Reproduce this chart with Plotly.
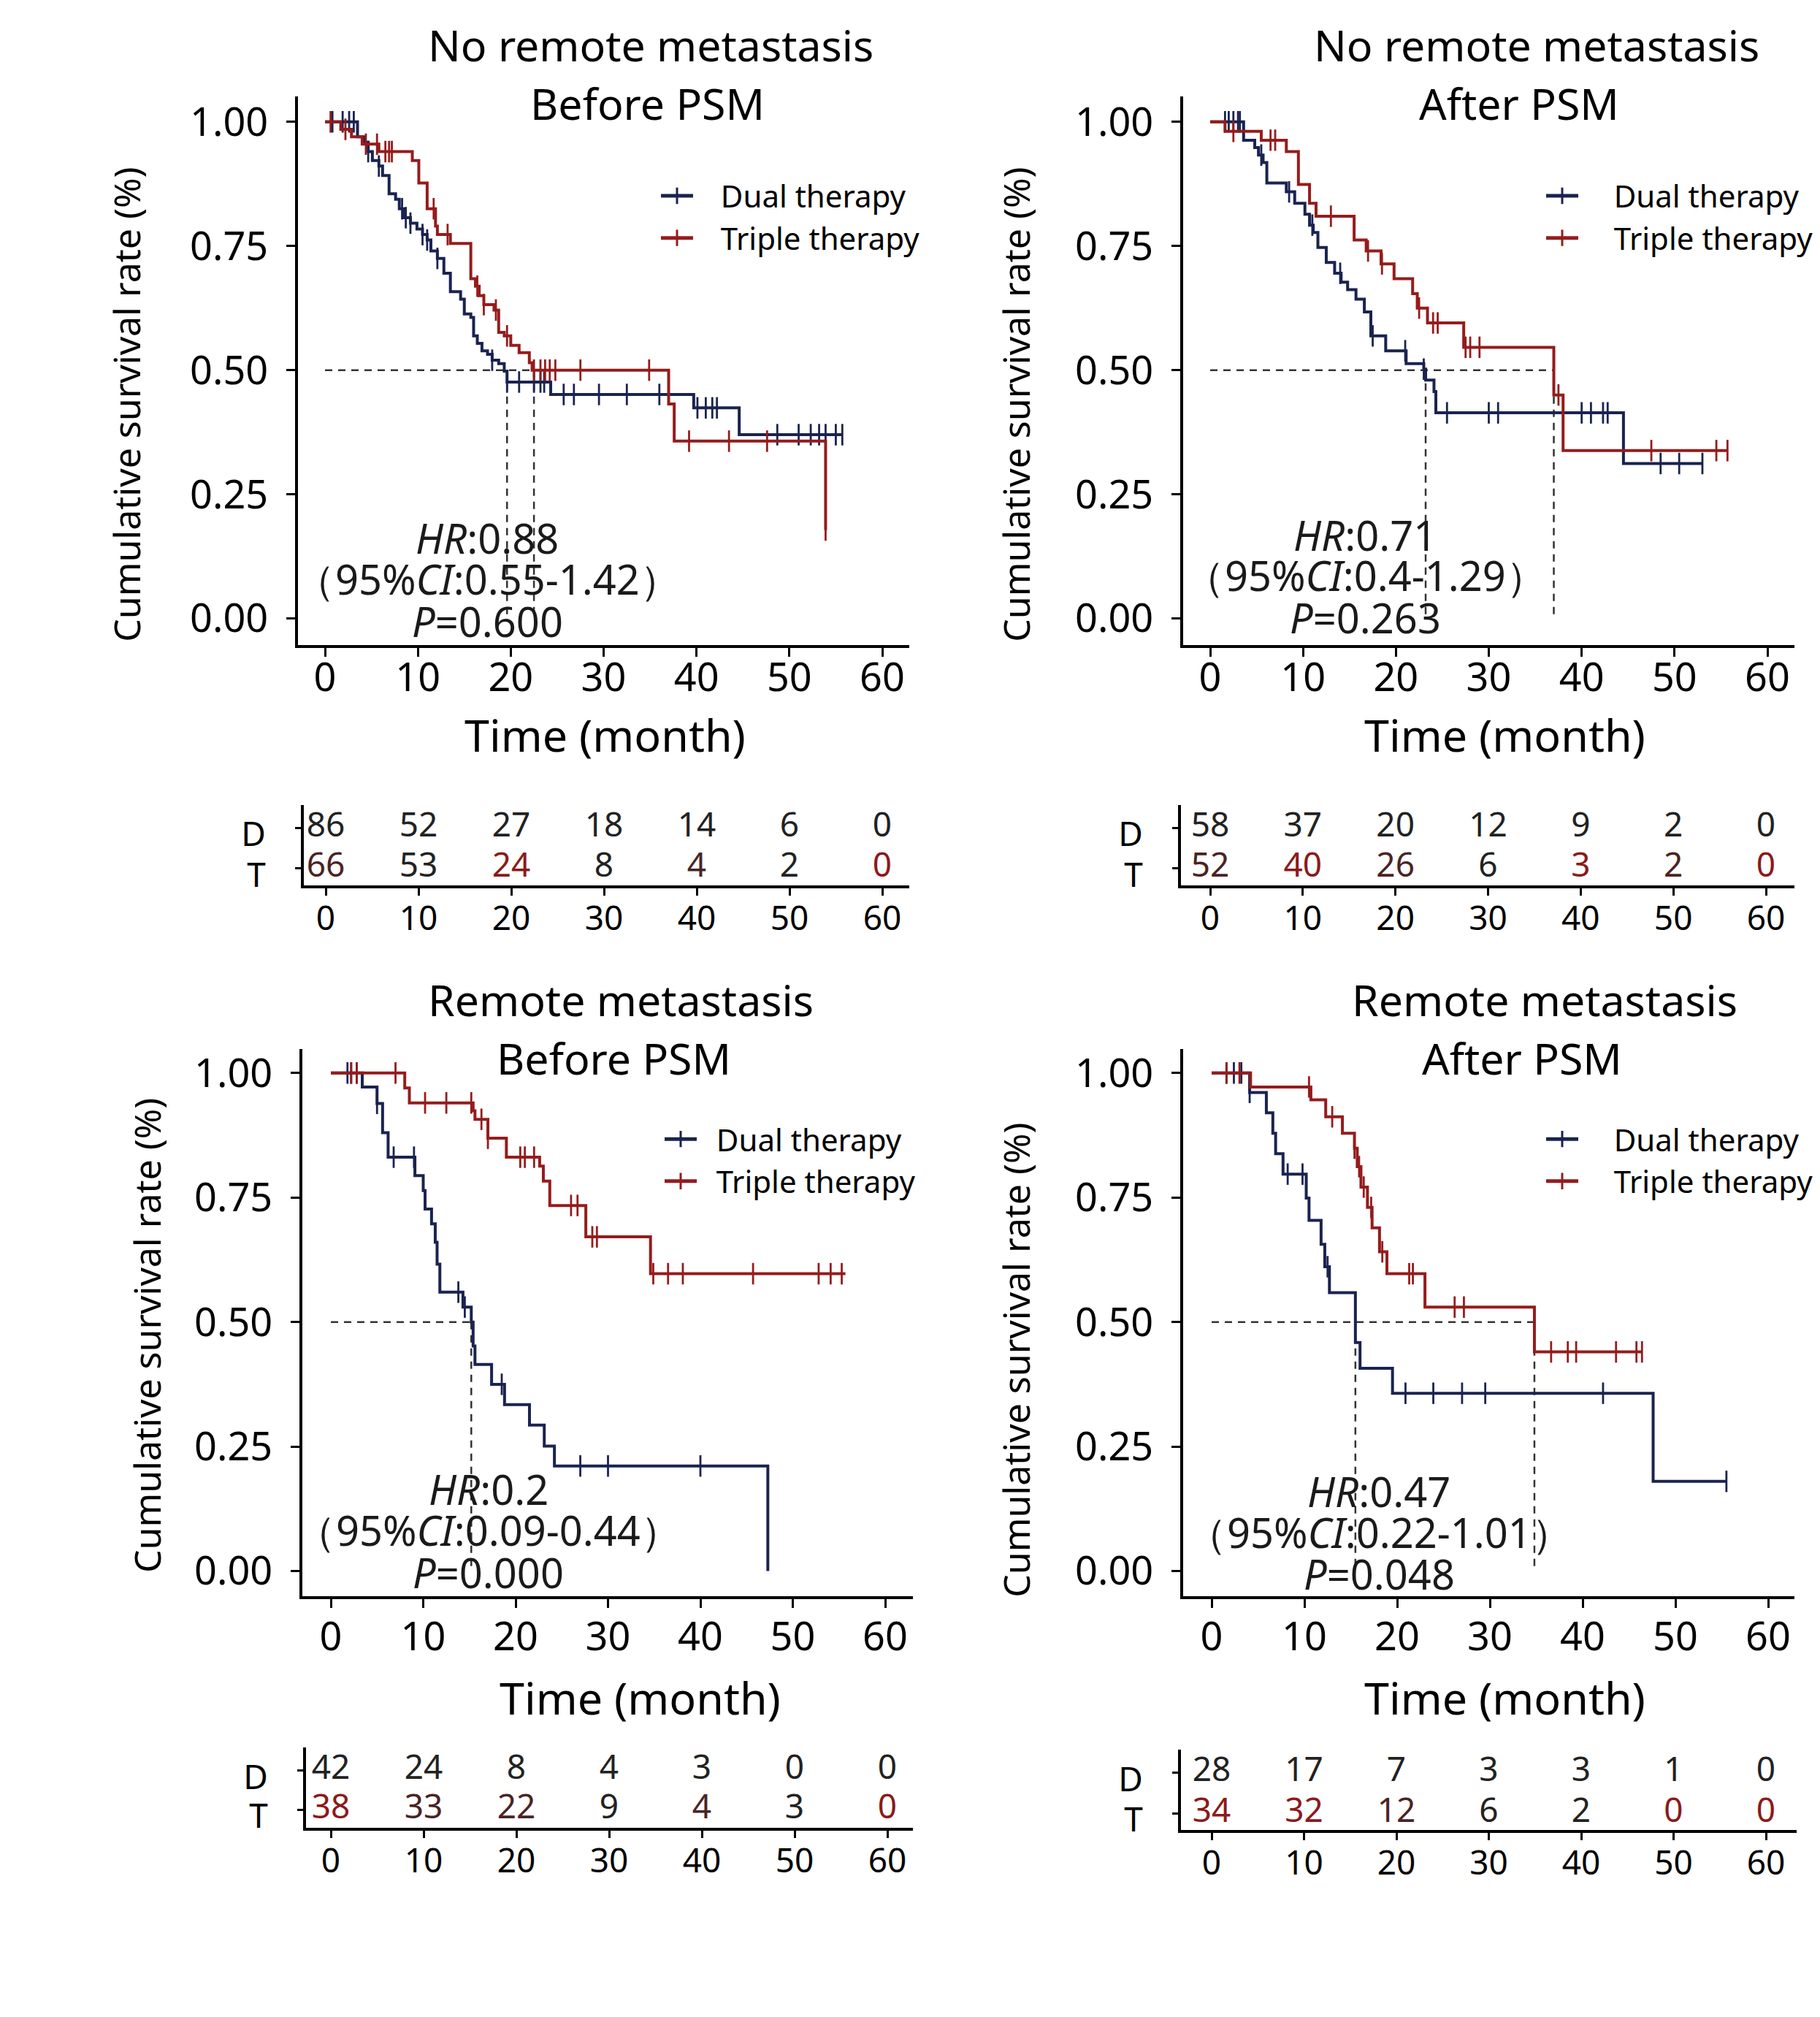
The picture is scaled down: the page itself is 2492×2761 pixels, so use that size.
import plotly.graph_objects as go

W, H = 2492, 2761

# ---------------- data ----------------
times_risk = [0, 10, 20, 30, 40, 50, 60]

# Panel 1: No remote metastasis, before PSM
p1_dual_t = [0, 3.5, 4.2, 4.65, 5.1, 5.8, 6.2, 6.9, 7.6, 8.0, 8.5, 9.2, 9.9, 10.5, 11.0, 11.4, 12.1, 12.8,
             13.5, 14.6, 15.0, 15.7, 16.0, 16.4, 16.9, 17.5, 18.0, 18.7, 19.3, 19.6, 24.3, 39.7, 44.6, 55.7]
p1_dual_s = [1.0, 0.970, 0.959, 0.940, 0.922, 0.911, 0.892, 0.855, 0.844, 0.825, 0.807, 0.796, 0.784, 0.773,
             0.762, 0.740, 0.725, 0.695, 0.658, 0.643, 0.613, 0.606, 0.569, 0.554, 0.539, 0.532, 0.520, 0.513,
             0.498, 0.476, 0.451, 0.424, 0.370, 0.370]
p1_dual_cens = [0.8, 1.9, 2.6, 3.1, 4.65, 5.8, 8.3, 8.7, 9.2, 10.5, 11.0, 12.1, 18.0, 19.6, 20.9, 22.5, 23.2,
                23.6, 25.7, 26.8, 29.5, 32.5, 36.0, 40.1, 41.0, 41.7, 42.2, 48.7, 51.0, 52.3, 53.2, 53.9, 55.0, 55.7]
p1_trip_t = [0, 1.7, 2.85, 4.0, 5.8, 9.4, 10.1, 11.0, 11.9, 12.1, 13.5, 15.7, 16.2, 16.6, 17.1, 18.2, 18.7,
             19.3, 20.0, 20.9, 22.0, 22.3, 37.0, 37.6, 53.9]
p1_trip_s = [1.0, 0.985, 0.970, 0.955, 0.940, 0.922, 0.877, 0.825, 0.790, 0.773, 0.755, 0.684, 0.669, 0.650,
             0.632, 0.621, 0.576, 0.569, 0.550, 0.535, 0.515, 0.500, 0.432, 0.357, 0.178]
p1_trip_cens = [0.6, 2.2, 4.4, 5.6, 6.5, 6.9, 7.2, 11.7, 13.2, 16.4, 17.1, 18.4, 19.6, 22.5, 23.2, 23.7, 24.2,
                24.8, 27.5, 34.9, 39.2, 43.5, 47.6, 53.9]
p1_medians = [19.6, 22.5]
p1_risk_dual = [86, 52, 27, 18, 14, 6, 0]
p1_risk_trip = [66, 53, 24, 8, 4, 2, 0]

# Panel 2: No remote metastasis, after PSM
p2_dual_t = [0, 3.6, 4.8, 5.2, 5.7, 6.1, 8.2, 9.1, 10.2, 10.7, 11.1, 11.6, 12.5, 13.4, 14.1, 14.8, 15.7, 16.6,
             17.3, 18.9, 21.1, 23.0, 23.2, 24.1, 24.3, 44.5, 53.0]
p2_dual_s = [1.0, 0.963, 0.948, 0.933, 0.918, 0.877, 0.859, 0.836, 0.814, 0.792, 0.777, 0.747, 0.717, 0.695,
             0.677, 0.662, 0.643, 0.617, 0.569, 0.539, 0.513, 0.502, 0.480, 0.457, 0.414, 0.312, 0.312]
p2_dual_cens = [1.6, 2.0, 2.5, 3.0, 3.2, 5.5, 8.5, 11.0, 14.0, 17.5, 21.0, 23.0, 25.5, 30.0, 31.0, 40.0, 41.0,
                42.3, 42.8, 48.5, 50.5, 53.0]
p2_trip_t = [0, 1.6, 5.5, 8.2, 9.5, 10.7, 11.4, 15.5, 16.8, 18.4, 19.8, 21.8, 22.3, 23.4, 27.3, 37.0, 38.0, 55.7]
p2_trip_s = [1.0, 0.981, 0.963, 0.940, 0.874, 0.836, 0.810, 0.762, 0.740, 0.714, 0.684, 0.654, 0.625, 0.595,
             0.546, 0.450, 0.338, 0.338]
p2_trip_cens = [2.5, 6.5, 7.0, 13.0, 17.0, 18.5, 22.5, 24.0, 24.5, 27.5, 28.0, 29.0, 37.5, 47.5, 54.5, 55.7]
p2_medians = [23.2, 37.0]
p2_risk_dual = [58, 37, 20, 12, 9, 2, 0]
p2_risk_trip = [52, 40, 26, 6, 3, 2, 0]

# Panel 3: Remote metastasis, before PSM
p3_dual_t = [0, 3.4, 5.0, 5.6, 6.2, 9.1, 10.0, 10.2, 10.9, 11.3, 11.5, 11.8, 14.3, 15.2, 15.4, 15.6, 17.4,
             18.8, 21.5, 23.1, 24.2, 47.3]
p3_dual_s = [1.0, 0.972, 0.939, 0.88, 0.831, 0.794, 0.764, 0.727, 0.697, 0.660, 0.616, 0.560, 0.530, 0.500,
             0.452, 0.415, 0.375, 0.334, 0.293, 0.251, 0.211, 0.0]
p3_dual_cens = [1.8, 2.2, 2.8, 5.0, 6.8, 9.0, 13.8, 14.5, 18.5, 27.0, 30.0, 40.0]
p3_trip_t = [0, 8.0, 8.5, 15.4, 15.6, 17.0, 19.0, 22.6, 23.0, 23.7, 27.6, 34.6, 55.7]
p3_trip_s = [1.0, 0.97, 0.94, 0.924, 0.907, 0.869, 0.831, 0.813, 0.783, 0.734, 0.671, 0.597, 0.597]
p3_trip_cens = [2.2, 2.8, 7.0, 10.2, 12.5, 15.2, 16.3, 17.0, 20.5, 21.0, 22.0, 26.0, 26.7, 28.3, 28.8, 34.9,
                36.5, 38.1, 45.7, 52.8, 54.1, 55.3]
p3_medians = [15.2]
p3_risk_dual = [42, 24, 8, 4, 3, 0, 0]
p3_risk_trip = [38, 33, 22, 9, 4, 3, 0]

# Panel 4: Remote metastasis, after PSM
p4_dual_t = [0, 4.1, 5.9, 6.6, 6.9, 7.7, 10.2, 10.5, 11.8, 12.2, 12.7, 15.5, 16.0, 19.5, 47.6, 55.5]
p4_dual_s = [1.0, 0.961, 0.92, 0.879, 0.838, 0.797, 0.749, 0.704, 0.656, 0.611, 0.559, 0.459, 0.407, 0.357,
             0.180, 0.180]
p4_dual_cens = [1.6, 2.4, 3.2, 4.1, 8.2, 9.8, 12.5, 20.9, 23.9, 27.0, 29.5, 42.2, 55.5]
p4_trip_t = [0, 4.2, 10.7, 12.3, 14.1, 15.4, 15.7, 16.1, 16.8, 17.3, 18.1, 18.9, 23.0, 34.8, 46.4]
p4_trip_s = [1.0, 0.972, 0.946, 0.912, 0.879, 0.849, 0.812, 0.771, 0.730, 0.689, 0.641, 0.597, 0.530, 0.440,
             0.440]
p4_trip_cens = [1.6, 3.0, 10.5, 13.0, 15.4, 15.9, 16.4, 17.2, 18.4, 21.3, 21.7, 26.2, 27.2, 36.6, 38.4, 39.3,
                43.6, 45.8, 46.4]
p4_medians = [15.5, 34.8]
p4_risk_dual = [28, 17, 7, 3, 3, 1, 0]
p4_risk_trip = [34, 32, 12, 6, 2, 0, 0]

titles = [("No remote metastasis", "Before PSM"), ("No remote metastasis", "After PSM"),
          ("Remote metastasis", "Before PSM"), ("Remote metastasis", "After PSM")]
hr_text = [("0.88", "0.55-1.42", "0.600"), ("0.71", "0.4-1.29", "0.263"),
           ("0.2", "0.09-0.44", "0.000"), ("0.47", "0.22-1.01", "0.048")]
series_names = ["Dual therapy", "Triple therapy"]

# ---------------- styles / layout geometry (pixels) ----------------
C_DUAL = "#1a2350"
C_TRIP = "#951c1c"
RED = "#8b1a1a"
DRK = "#222222"
BRN = "#4a2424"
risk_trip_colors = [
    [BRN, DRK, RED, DRK, BRN, DRK, RED],
    [BRN, RED, BRN, DRK, RED, BRN, RED],
    [RED, BRN, BRN, DRK, BRN, DRK, RED],
    [RED, RED, BRN, DRK, DRK, RED, RED],
]
FONT = "Noto Sans, Open Sans, sans-serif"

geo = [
    dict(km=dict(L=408, R=1245, T=127, B=884, x0=445, x60=1208, y1=162, y0=847),
         rk=dict(L=416, R=1245, T=1104, B=1215, x0=446, x60=1208, yD=1136, yT=1192),
         title=(891, 55, 886, 136), ytitle=(173, 552), xtitle=(828, 1007),
         hr=(667, 736, 792, 850), leg=(900, 230), gap=3, xstand=-18),
    dict(km=dict(L=1620, R=2457, T=127, B=884, x0=1657, x60=2420, y1=162, y0=847),
         rk=dict(L=1617, R=2457, T=1104, B=1215, x0=1657, x60=2418, yD=1136, yT=1192),
         title=(2104, 55, 2080, 136), ytitle=(1391, 552), xtitle=(2060, 1007),
         hr=(1869, 732, 787, 845), leg=(2112, 230), gap=4, xstand=-18),
    dict(km=dict(L=414, R=1250, T=1441, B=2196, x0=453, x60=1212, y1=1474, y0=2161),
         rk=dict(L=419, R=1250, T=2404, B=2515, x0=453, x60=1215, yD=2436, yT=2490),
         title=(850, 1372, 840, 1453), ytitle=(201, 1836), xtitle=(876, 2335),
         hr=(669, 2048, 2104, 2162), leg=(905, 1531), gap=2, xstand=-7),
    dict(km=dict(L=1620, R=2457, T=1441, B=2196, x0=1659, x60=2421, y1=1474, y0=2161),
         rk=dict(L=1617, R=2460, T=2407, B=2518, x0=1659, x60=2418, yD=2439, yT=2495),
         title=(2115, 1372, 2084, 1453), ytitle=(1391, 1870), xtitle=(2060, 2335),
         hr=(1888, 2051, 2107, 2164), leg=(2112, 1531), gap=4, xstand=-7),
]

panels = [
    (p1_dual_t, p1_dual_s, p1_dual_cens, p1_trip_t, p1_trip_s, p1_trip_cens, p1_medians, p1_risk_dual, p1_risk_trip),
    (p2_dual_t, p2_dual_s, p2_dual_cens, p2_trip_t, p2_trip_s, p2_trip_cens, p2_medians, p2_risk_dual, p2_risk_trip),
    (p3_dual_t, p3_dual_s, p3_dual_cens, p3_trip_t, p3_trip_s, p3_trip_cens, p3_medians, p3_risk_dual, p3_risk_trip),
    (p4_dual_t, p4_dual_s, p4_dual_cens, p4_trip_t, p4_trip_s, p4_trip_cens, p4_medians, p4_risk_dual, p4_risk_trip),
]


def sfx(n):
    return "" if n == 1 else str(n)


def px_x(p):
    return p / W


def px_y(p):
    return 1 - p / H


def surv_at(ts, ss, t):
    v = ss[0]
    for ti, si in zip(ts, ss):
        if ti <= t + 1e-9:
            v = si
    return v


fig = go.Figure()
layout = dict(width=W, height=H, margin=dict(l=0, r=0, t=0, b=0, pad=0),
              paper_bgcolor="white", plot_bgcolor="white",
              font=dict(family=FONT, color="black"), annotations=[])

for i, (dt, ds, dc, tt, ts, tc, med, rd, rt) in enumerate(panels):
    n_km = i + 1
    n_rk = i + 5
    g = geo[i]
    km = g["km"]
    rk = g["rk"]
    xa, ya = "x" + sfx(n_km), "y" + sfx(n_km)
    xr, yr = "x" + sfx(n_rk), "y" + sfx(n_rk)

    # KM axes
    sx = (km["x60"] - km["x0"]) / 60.0
    sy = (km["y0"] - km["y1"])
    axis_common = dict(showline=True, linewidth=4, linecolor="black", mirror=False, ticks="outside",
                       ticklen=12, tickwidth=3, tickcolor="black", showgrid=False, zeroline=False)
    layout["xaxis" + sfx(n_km)] = dict(
        domain=[px_x(km["L"]), px_x(km["R"])],
        range=[(km["L"] - km["x0"]) / sx, (km["R"] - km["x0"]) / sx],
        tickvals=times_risk, tickfont=dict(size=54), ticklabelstandoff=g["xstand"], anchor=ya, **axis_common)
    layout["yaxis" + sfx(n_km)] = dict(
        domain=[px_y(km["B"]), px_y(km["T"])],
        range=[(km["y0"] - km["B"]) / sy, (km["y0"] - km["T"]) / sy],
        tickvals=[0, 0.25, 0.5, 0.75, 1.0], tickformat=".2f", tickfont=dict(size=54),
        ticklabelstandoff=14, anchor=xa, **axis_common)

    # Risk axes
    rsx = (rk["x60"] - rk["x0"]) / 60.0
    rsy = (rk["yT"] - rk["yD"])
    layout["xaxis" + sfx(n_rk)] = dict(
        domain=[px_x(rk["L"]), px_x(rk["R"])],
        range=[(rk["L"] - rk["x0"]) / rsx, (rk["R"] - rk["x0"]) / rsx],
        tickvals=times_risk, tickfont=dict(size=46), ticklabelstandoff=-8, anchor=yr,
        **dict(axis_common, ticklen=10))
    layout["yaxis" + sfx(n_rk)] = dict(
        domain=[px_y(rk["B"]), px_y(rk["T"])],
        range=[-(rk["B"] - rk["yT"]) / rsy, 1 + (rk["yD"] - rk["T"]) / rsy],
        tickvals=[0, 1], ticktext=["T", "D"], tickfont=dict(size=46),
        ticklabelstandoff=31, ticklabelshift=9, anchor=xr, **dict(axis_common, ticklen=8))

    legname = "legend" + sfx(n_km)

    # median dashed lines
    mx = max(med)
    fig.add_trace(go.Scatter(x=[0, mx], y=[0.5, 0.5], mode="lines", xaxis=xa, yaxis=ya, showlegend=False,
                             line=dict(color="#333333", width=2.5, dash="10px,8px"), hoverinfo="skip"))
    for m in med:
        fig.add_trace(go.Scatter(x=[m, m], y=[0.5, 0], mode="lines", xaxis=xa, yaxis=ya, showlegend=False,
                                 line=dict(color="#333333", width=2.5, dash="10px,8px"), hoverinfo="skip"))

    # KM curves
    for (t, s, c, col) in [(dt, ds, dc, C_DUAL), (tt, ts, tc, C_TRIP)]:
        fig.add_trace(go.Scatter(x=t, y=s, mode="lines", line=dict(color=col, width=4, shape="hv"),
                                 xaxis=xa, yaxis=ya, showlegend=False))
        fig.add_trace(go.Scatter(x=c, y=[surv_at(t, s, v) for v in c], mode="markers",
                                 marker=dict(symbol="line-ns", size=21, line=dict(color=col, width=2.8)),
                                 xaxis=xa, yaxis=ya, showlegend=False))

    # legend entries
    for name, col in zip(series_names, [C_DUAL, C_TRIP]):
        fig.add_trace(go.Scatter(x=[None], y=[None], mode="lines+markers", name="\u00a0" * g["gap"] + name,
                                 legend=legname, line=dict(color=col, width=5),
                                 marker=dict(symbol="line-ns", size=16, line=dict(color=col, width=3)),
                                 xaxis=xa, yaxis=ya))
    layout[legname] = dict(x=px_x(g["leg"][0]), y=px_y(g["leg"][1]), xanchor="left", yanchor="top",
                           bgcolor="rgba(0,0,0,0)", font=dict(size=42, color="black"),
                           itemwidth=44, tracegroupgap=0)

    # risk table numbers
    fig.add_trace(go.Scatter(x=times_risk, y=[1] * len(times_risk), mode="text", text=[str(v) for v in rd],
                             textfont=dict(size=46, color=DRK), textposition="middle center",
                             xaxis=xr, yaxis=yr, showlegend=False, hoverinfo="skip"))
    fig.add_trace(go.Scatter(x=times_risk, y=[0] * len(times_risk), mode="text", text=[str(v) for v in rt],
                             textfont=dict(size=46, color=risk_trip_colors[i]), textposition="middle center",
                             xaxis=xr, yaxis=yr, showlegend=False, hoverinfo="skip"))

    # text annotations
    t1, t2 = titles[i]
    tx1, ty1, tx2, ty2 = g["title"]
    layout["annotations"].append(dict(text=t1, x=px_x(tx1), y=px_y(ty1), xref="paper", yref="paper",
                                      xanchor="center", yanchor="middle", showarrow=False, font=dict(size=59)))
    layout["annotations"].append(dict(text=t2, x=px_x(tx2), y=px_y(ty2), xref="paper", yref="paper",
                                      xanchor="center", yanchor="middle", showarrow=False, font=dict(size=59)))
    yx, yy = g["ytitle"]
    layout["annotations"].append(dict(text="Cumulative survival rate (%)", x=px_x(yx), y=px_y(yy),
                                      xref="paper", yref="paper", textangle=-90, xanchor="center",
                                      yanchor="middle", showarrow=False, font=dict(size=50)))
    xx, xy = g["xtitle"]
    layout["annotations"].append(dict(text="Time (month)", x=px_x(xx), y=px_y(xy), xref="paper", yref="paper",
                                      xanchor="center", yanchor="middle", showarrow=False, font=dict(size=61)))
    hx, h1, h2, h3 = g["hr"]
    hr, ci, pv = hr_text[i]
    for txt, hy in [("<i>HR</i>:" + hr, h1), ("（95%<i>CI</i>:" + ci + "）", h2), ("<i>P</i>=" + pv, h3)]:
        layout["annotations"].append(dict(text=txt, x=px_x(hx), y=px_y(hy), xref="paper", yref="paper",
                                          xanchor="center", yanchor="middle", showarrow=False,
                                          font=dict(size=56, color="#1a1a1a")))

fig.update_layout(**layout)
fig.write_html("out.html")
